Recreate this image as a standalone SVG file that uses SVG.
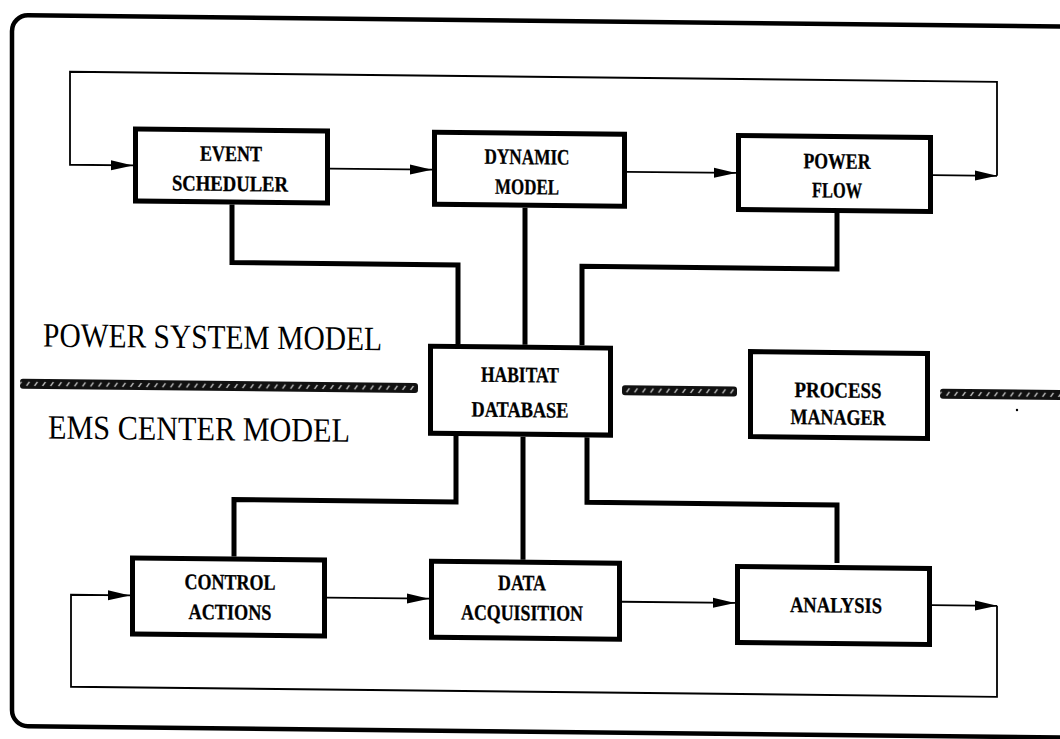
<svg xmlns="http://www.w3.org/2000/svg" width="1060" height="739" viewBox="0 0 1060 739">
  <style>
    .box { fill: #fff; stroke: #000; stroke-width: 5; }
    .frame { fill: none; stroke: #000; stroke-width: 4.5; }
    .link { fill: none; stroke: #000; stroke-width: 5; stroke-linejoin: miter; }
    .flow { fill: none; stroke: #000; stroke-width: 1.8; }
    .lbl { font-family: "Liberation Serif", "DejaVu Serif", serif; font-weight: bold; font-size: 22px; fill: #000; stroke: #000; stroke-width: 0.3; text-anchor: middle; }
    .title { font-family: "Liberation Serif", "DejaVu Serif", serif; font-size: 34px; fill: #000; }
    .rope { fill: url(#rope); }
  </style>
  <defs>
    <marker id="arrow" markerUnits="userSpaceOnUse" markerWidth="22" markerHeight="11" refX="22" refY="5.5" orient="auto">
      <path d="M0,0.5 L22,5.5 L0,10.5 Z" fill="#000"/>
    </marker>
    <pattern id="rope" patternUnits="userSpaceOnUse" x="0" y="378.5" width="8" height="10">
      <rect width="8" height="10" fill="#111"/>
      <line x1="2.5" y1="7" x2="5.5" y2="3" stroke="#fff" stroke-width="1.1"/>
    </pattern>
  </defs>
  <rect width="1060" height="739" fill="#fff"/>

  <g transform="skewY(0.62)">
    <!-- outer border, open to the right -->
    <path class="frame" d="M1080 15 H28 A16 16 0 0 0 12 31 V710 A16 16 0 0 0 28 726 H1080"/>

    <!-- model boundary band -->
    <g id="boundary">
      <rect class="rope" x="20" y="378.5" width="398" height="10" rx="3"/>
      <rect class="rope" x="622" y="378.5" width="115" height="10" rx="3"/>
      <rect class="rope" x="940" y="378.5" width="125" height="10" rx="3"/>
      <circle cx="1017" cy="399" r="1.2" fill="#000"/>
    </g>

    <text class="title" x="43" y="346" textLength="339" lengthAdjust="spacingAndGlyphs">POWER SYSTEM MODEL</text>
    <text class="title" x="48" y="438" textLength="302" lengthAdjust="spacingAndGlyphs">EMS CENTER MODEL</text>

    <g id="connectors">
      <!-- database links -->
      <path class="link" d="M232 202 V260 H458 V339"/>
      <path class="link" d="M525 202 V339"/>
      <path class="link" d="M837 202 V260 H582 V339"/>
      <path class="link" d="M456 431 V497 H234 V554"/>
      <path class="link" d="M523 431 V554"/>
      <path class="link" d="M587 431 V496 H837 V554"/>

      <!-- simulation loop -->
      <path class="flow" d="M997 165 V71 H70 V164 H133" marker-end="url(#arrow)"/>
      <path class="flow" d="M330 165 H432" marker-end="url(#arrow)"/>
      <path class="flow" d="M627 165 H736" marker-end="url(#arrow)"/>
      <path class="flow" d="M933 165 H997" marker-end="url(#arrow)"/>

      <!-- control center loop -->
      <path class="flow" d="M997 595 V686 H71 V594 H130" marker-end="url(#arrow)"/>
      <path class="flow" d="M327 594 H429" marker-end="url(#arrow)"/>
      <path class="flow" d="M622 595 H735" marker-end="url(#arrow)"/>
      <path class="flow" d="M932 595 H997" marker-end="url(#arrow)"/>
    </g>

    <g id="event-scheduler">
      <rect class="box" x="135.5" y="127.5" width="192" height="72"/>
      <text class="lbl" x="231" y="158.5" textLength="62" lengthAdjust="spacingAndGlyphs">EVENT</text>
      <text class="lbl" x="230" y="188.5" textLength="116" lengthAdjust="spacingAndGlyphs">SCHEDULER</text>
    </g>

    <g id="dynamic-model">
      <rect class="box" x="434.5" y="127.5" width="190" height="72"/>
      <text class="lbl" x="527" y="158.5" textLength="85" lengthAdjust="spacingAndGlyphs">DYNAMIC</text>
      <text class="lbl" x="527" y="188.5" textLength="64" lengthAdjust="spacingAndGlyphs">MODEL</text>
    </g>

    <g id="power-flow">
      <rect class="box" x="738.5" y="127.5" width="192" height="74"/>
      <text class="lbl" x="837" y="159.5" textLength="67" lengthAdjust="spacingAndGlyphs">POWER</text>
      <text class="lbl" x="837" y="188.5" textLength="50" lengthAdjust="spacingAndGlyphs">FLOW</text>
    </g>

    <g id="habitat-database">
      <rect class="box" x="430.5" y="341.5" width="180" height="87"/>
      <text class="lbl" x="520" y="376.5" textLength="78" lengthAdjust="spacingAndGlyphs">HABITAT</text>
      <text class="lbl" x="520" y="411.5" textLength="97" lengthAdjust="spacingAndGlyphs">DATABASE</text>
    </g>

    <g id="process-manager">
      <rect class="box" x="750.5" y="343.5" width="177" height="85"/>
      <text class="lbl" x="838" y="388.5" textLength="87" lengthAdjust="spacingAndGlyphs">PROCESS</text>
      <text class="lbl" x="838" y="415.5" textLength="95" lengthAdjust="spacingAndGlyphs">MANAGER</text>
    </g>

    <g id="control-actions">
      <rect class="box" x="132.5" y="556.5" width="192" height="76"/>
      <text class="lbl" x="230" y="587" textLength="91" lengthAdjust="spacingAndGlyphs">CONTROL</text>
      <text class="lbl" x="230" y="617" textLength="83" lengthAdjust="spacingAndGlyphs">ACTIONS</text>
    </g>

    <g id="data-acquisition">
      <rect class="box" x="431.5" y="556.5" width="188" height="76"/>
      <text class="lbl" x="522" y="584.5" textLength="48" lengthAdjust="spacingAndGlyphs">DATA</text>
      <text class="lbl" x="522" y="614.5" textLength="122" lengthAdjust="spacingAndGlyphs">ACQUISITION</text>
    </g>

    <g id="analysis">
      <rect class="box" x="737.5" y="558.5" width="192" height="76"/>
      <text class="lbl" x="836" y="603.5" textLength="92" lengthAdjust="spacingAndGlyphs">ANALYSIS</text>
    </g>
  </g>
</svg>
